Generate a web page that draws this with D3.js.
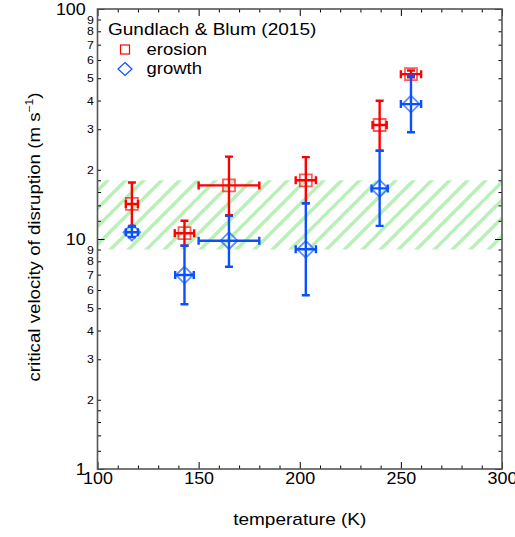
<!DOCTYPE html>
<html lang="en">
<head>
<meta charset="UTF-8">
<title>Critical velocity of disruption</title>
<script src="https://d3js.org/d3.v7.min.js"></script>
<style>
    body { margin: 0; background: #fff; }
    text { font-family: "Liberation Sans", Arial, Helvetica, sans-serif; fill: #000; }
</style>
</head>
<body>
<script>
// Gundlach & Blum (2015) values
const erosionT    = [117, 143, 165, 203, 239.5, 255];
const erosionV    = [14.2, 10.6, 17.1, 18.0, 31.3, 52.1];
const erosionVlo  = [11.4, 9.35, 12.7, 14.3, 24.2, 50.5];
const erosionVhi  = [17.6, 12.0, 22.8, 22.7, 39.9, 54];
const erosionTerr = [3, 4.8, 15, 5, 3.5, 5];

const growthT    = [117, 143, 165, 203, 239.5, 255];
const growthV    = [10.7, 6.97, 9.83, 9.02, 16.6, 38.6];
const growthVlo  = [10.2, 5.2, 7.58, 5.69, 11.4, 29.1];
const growthVhi  = [11.3, 9.35, 12.6, 14.3, 24.2, 51.3];
const growthTerr = [3, 4.6, 15, 5, 4, 5];

// hatched band
const bandLo = 9, bandHi = 18;

// ticks
const xMajor = [100, 150, 200, 250, 300];
const xMinor = d3.range(110, 300, 10).filter(t => t % 50 !== 0);
const yMajor = [1, 10, 100];
const yMinorLabeled = [2, 3, 4, 5, 6, 7, 8, 9, 20, 30, 40, 50, 60, 70, 80, 90];
const yMinorPlain = [1.2, 1.4, 1.6, 1.8, 12, 14, 16, 18];

const W = 515, H = 537;
const red = "#ff0000", blue = "#0a50ff";
const stretch = 1.12;   // the original font is a bit wider than Arial

const x = d3.scaleLinear().domain([100, 300]).range([97.5, 502]);
const y = d3.scaleLog().domain([1, 100]).range([469, 9]);

const svg = d3.select("body").append("svg")
    .attr("width", W)
    .attr("height", H);

// hatch pattern
const pat = svg.append("defs").append("pattern")
    .attr("id", "hatch")
    .attr("patternUnits", "userSpaceOnUse")
    .attr("width", 18)
    .attr("height", 18);
pat.append("path")
    .attr("d", "M-4.5,4.5 l9,-9 M0,18 l18,-18 M13.5,22.5 l9,-9")
    .attr("stroke", "#b6f2b4")
    .attr("stroke-width", 3.4);

svg.append("rect")
    .attr("x", x(100))
    .attr("y", y(bandHi))
    .attr("width", x(300) - x(100))
    .attr("height", y(bandLo) - y(bandHi))
    .attr("fill", "url(#hatch)");

// axes helper
function styleAxis(g, size) {
    g.select(".domain").remove();
    g.selectAll("line").attr("stroke", "#000").attr("stroke-width", 1);
    g.selectAll("text")
        .attr("font-family", null)
        .style("font-size", size + "px")
        .attr("transform", `scale(${stretch},1)`);
}

// bottom
svg.append("g").attr("transform", `translate(0,${y(1)})`)
    .call(d3.axisBottom(x).tickValues(xMajor).tickSize(-7).tickPadding(4).tickSizeOuter(0))
    .call(g => styleAxis(g, 16));
svg.append("g").attr("transform", `translate(0,${y(1)})`)
    .call(d3.axisBottom(x).tickValues(xMinor).tickSize(-3.5).tickFormat("").tickSizeOuter(0))
    .call(g => styleAxis(g, 16));
// top
svg.append("g").attr("transform", `translate(0,${y(100)})`)
    .call(d3.axisTop(x).tickValues(xMajor).tickSize(-7).tickFormat("").tickSizeOuter(0))
    .call(g => styleAxis(g, 16));
svg.append("g").attr("transform", `translate(0,${y(100)})`)
    .call(d3.axisTop(x).tickValues(xMinor).tickSize(-3.5).tickFormat("").tickSizeOuter(0))
    .call(g => styleAxis(g, 16));

// left
svg.append("g").attr("transform", `translate(${x(100)},0)`)
    .call(d3.axisLeft(y).tickValues(yMajor).tickSize(-7).tickPadding(10.5).tickFormat(d3.format("d")).tickSizeOuter(0))
    .call(g => styleAxis(g, 16));
svg.append("g").attr("transform", `translate(${x(100)},0)`)
    .call(d3.axisLeft(y).tickValues(yMinorLabeled).tickSize(-3.5).tickPadding(3.2)
        .tickFormat(d => String(d).charAt(0)).tickSizeOuter(0))
    .call(g => styleAxis(g, 11));
svg.append("g").attr("transform", `translate(${x(100)},0)`)
    .call(d3.axisLeft(y).tickValues(yMinorPlain).tickSize(-3.5).tickFormat("").tickSizeOuter(0))
    .call(g => styleAxis(g, 11));
// right
svg.append("g").attr("transform", `translate(${x(300)},0)`)
    .call(d3.axisRight(y).tickValues(yMajor).tickSize(-7).tickFormat("").tickSizeOuter(0))
    .call(g => styleAxis(g, 11));
svg.append("g").attr("transform", `translate(${x(300)},0)`)
    .call(d3.axisRight(y).tickValues(yMinorLabeled.concat(yMinorPlain)).tickSize(-3.5).tickFormat("").tickSizeOuter(0))
    .call(g => styleAxis(g, 11));

// frame
svg.append("rect")
    .attr("x", x(100))
    .attr("y", y(100))
    .attr("width", x(300) - x(100))
    .attr("height", y(1) - y(100))
    .attr("fill", "none")
    .attr("stroke", "#555")
    .attr("stroke-width", 1.6);

// error bars + markers
function drawSeries(T, V, lo, hi, terr, color, shape) {
    const g = svg.append("g");
    const cap = 4;
    T.forEach((t, i) => {
        const cx = x(t), cy = y(V[i]);
        const y0 = y(lo[i]), y1 = y(hi[i]);
        const x0 = x(t - terr[i]), x1 = x(t + terr[i]);
        const path = `M${cx},${y0}V${y1}M${cx - cap},${y0}H${cx + cap}M${cx - cap},${y1}H${cx + cap}` +
                     `M${x0},${cy}H${x1}M${x0},${cy - cap}V${cy + cap}M${x1},${cy - cap}V${cy + cap}`;
        g.append("path")
            .attr("d", path)
            .attr("fill", "none")
            .attr("stroke", color)
            .attr("stroke-width", 2.4);
    });
    g.selectAll(".mk")
        .data(T.map((t, i) => [t, V[i]]))
        .join("path")
        .attr("class", "mk")
        .attr("transform", d => `translate(${x(d[0])},${y(d[1])})`)
        .attr("d", shape === "square" ? "M-6,-6H6V6H-6Z" : "M0,-8.5L8.5,0L0,8.5L-8.5,0Z")
        .attr("fill", "none")
        .attr("stroke", color)
        .attr("stroke-opacity", 0.65)
        .attr("stroke-width", 1.8);
}
drawSeries(erosionT, erosionV, erosionVlo, erosionVhi, erosionTerr, red, "square");
drawSeries(growthT, growthV, growthVlo, growthVhi, growthTerr, blue, "diamond");

// legend
svg.append("text")
    .attr("transform", `translate(108,35) scale(${stretch},1)`)
    .style("font-size", "17px")
    .text("Gundlach & Blum (2015)");
svg.append("rect")
    .attr("x", 120.5).attr("y", 45)
    .attr("width", 9).attr("height", 9)
    .attr("fill", "none").attr("stroke", red).attr("stroke-width", 1.2);
svg.append("path")
    .attr("d", "M125,62.5L132,69L125,75.5L118,69Z")
    .attr("fill", "none").attr("stroke", blue).attr("stroke-width", 1.2);
svg.append("text")
    .attr("transform", `translate(146.5,55) scale(${stretch},1)`)
    .style("font-size", "16.5px")
    .text("erosion");
svg.append("text")
    .attr("transform", `translate(146.5,74) scale(${stretch},1)`)
    .style("font-size", "16.5px")
    .text("growth");

// axis titles
svg.append("text")
    .attr("transform", `translate(${(x(100) + x(300)) / 2},525) scale(${stretch},1)`)
    .attr("text-anchor", "middle")
    .style("font-size", "17px")
    .text("temperature (K)");

const yt = svg.append("text")
    .attr("transform", `translate(39.5,237) rotate(-90) scale(1.1,1)`)
    .attr("text-anchor", "middle")
    .style("font-size", "17px");
yt.append("tspan").text("critical velocity of disruption (m s");
yt.append("tspan").attr("dy", -7).style("font-size", "11px").text("\u22121");
yt.append("tspan").attr("dy", 7).text(")");
</script>
</body>
</html>
